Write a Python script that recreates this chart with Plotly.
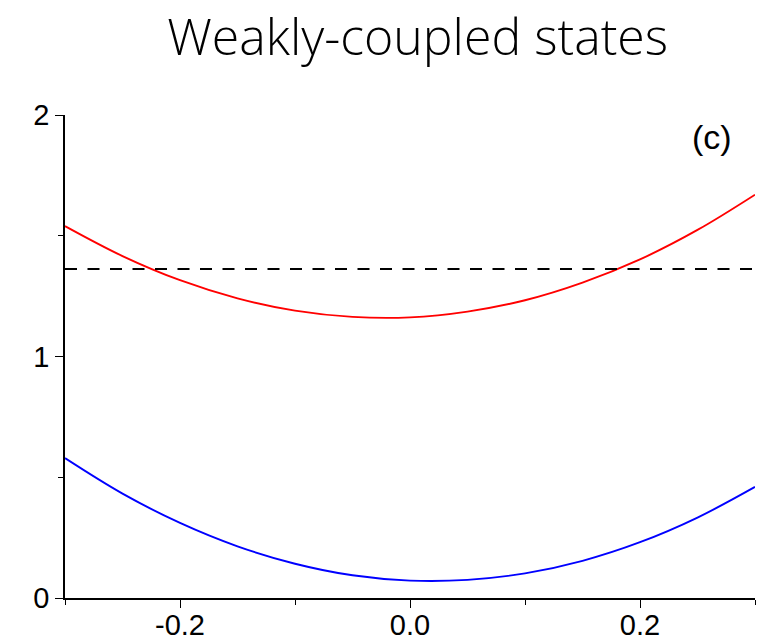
import plotly.graph_objects as go

# Sampled wave-vector grid and the two band energies
k_values = [-0.30, -0.25, -0.20, -0.15, -0.10, -0.05, 0.00, 0.05, 0.10, 0.15, 0.20, 0.25, 0.30]
upper_band = [1.540, 1.416, 1.316, 1.241, 1.190, 1.164, 1.162, 1.186, 1.233, 1.306, 1.402, 1.524, 1.670]
lower_band = [0.579, 0.432, 0.311, 0.214, 0.142, 0.094, 0.072, 0.075, 0.102, 0.154, 0.231, 0.333, 0.460]
reference_level = 1.362
k_range = [-0.3, 0.3]
x_ticks = [-0.2, 0.0, 0.2]
x_tick_text = ["-0.2", "0.0", "0.2"]
y_ticks = [0, 1, 2]
y_tick_text = ["0", "1", "2"]

fig = go.Figure()
fig.add_trace(go.Scatter(x=k_values, y=upper_band, mode="lines",
                         line=dict(color="#ff0000", width=1.9, shape="spline"),
                         showlegend=False, hoverinfo="skip"))
fig.add_trace(go.Scatter(x=k_values, y=lower_band, mode="lines",
                         line=dict(color="#0000ff", width=1.9, shape="spline"),
                         showlegend=False, hoverinfo="skip"))
fig.add_trace(go.Scatter(x=k_range, y=[reference_level, reference_level], mode="lines",
                         line=dict(color="#000000", width=2, dash="12px,10.5px"),
                         showlegend=False, hoverinfo="skip"))

tick_font = dict(family="Liberation Sans, Arial, sans-serif", size=29, color="#000000")

fig.update_layout(
    width=772, height=643,
    margin=dict(l=65, r=17, t=115, b=45),
    paper_bgcolor="#ffffff", plot_bgcolor="#ffffff",
    title=dict(text="Weakly-coupled states", x=0.541, xanchor="center", y=0.942, yanchor="middle",
               font=dict(family="Open Sans, Lato, sans-serif", size=50, color="#000000", weight=300)),
    xaxis=dict(range=k_range, showgrid=False, zeroline=False, automargin=False,
               showline=True, linecolor="#000000", linewidth=1.5,
               tickmode="array", tickvals=x_ticks, ticktext=x_tick_text,
               ticks="outside", ticklen=8, tickwidth=1.3, tickcolor="#000000",
               tickfont=tick_font, ticklabelstandoff=-8,
               minor=dict(tickmode="array", tickvals=[-0.3, -0.1, 0.1, 0.3],
                          ticks="outside", ticklen=5, tickwidth=1.3, tickcolor="#000000")),
    yaxis=dict(range=[0, 2], showgrid=False, zeroline=False, automargin=False,
               showline=True, linecolor="#000000", linewidth=1.5,
               tickmode="array", tickvals=y_ticks, ticktext=y_tick_text,
               ticks="outside", ticklen=8, tickwidth=1.3, tickcolor="#000000",
               tickfont=tick_font,
               minor=dict(tickmode="array", tickvals=[0.5, 1.5],
                          ticks="outside", ticklen=5, tickwidth=1.3, tickcolor="#000000")),
    annotations=[dict(text="(c)", x=0.3, y=2, xref="x", yref="y",
                      xshift=-43, yshift=-22, showarrow=False, xanchor="center", yanchor="middle",
                      font=dict(family="Liberation Sans, Arial, sans-serif", size=34, color="#000000"))],
)

fig.write_html("out.html")
